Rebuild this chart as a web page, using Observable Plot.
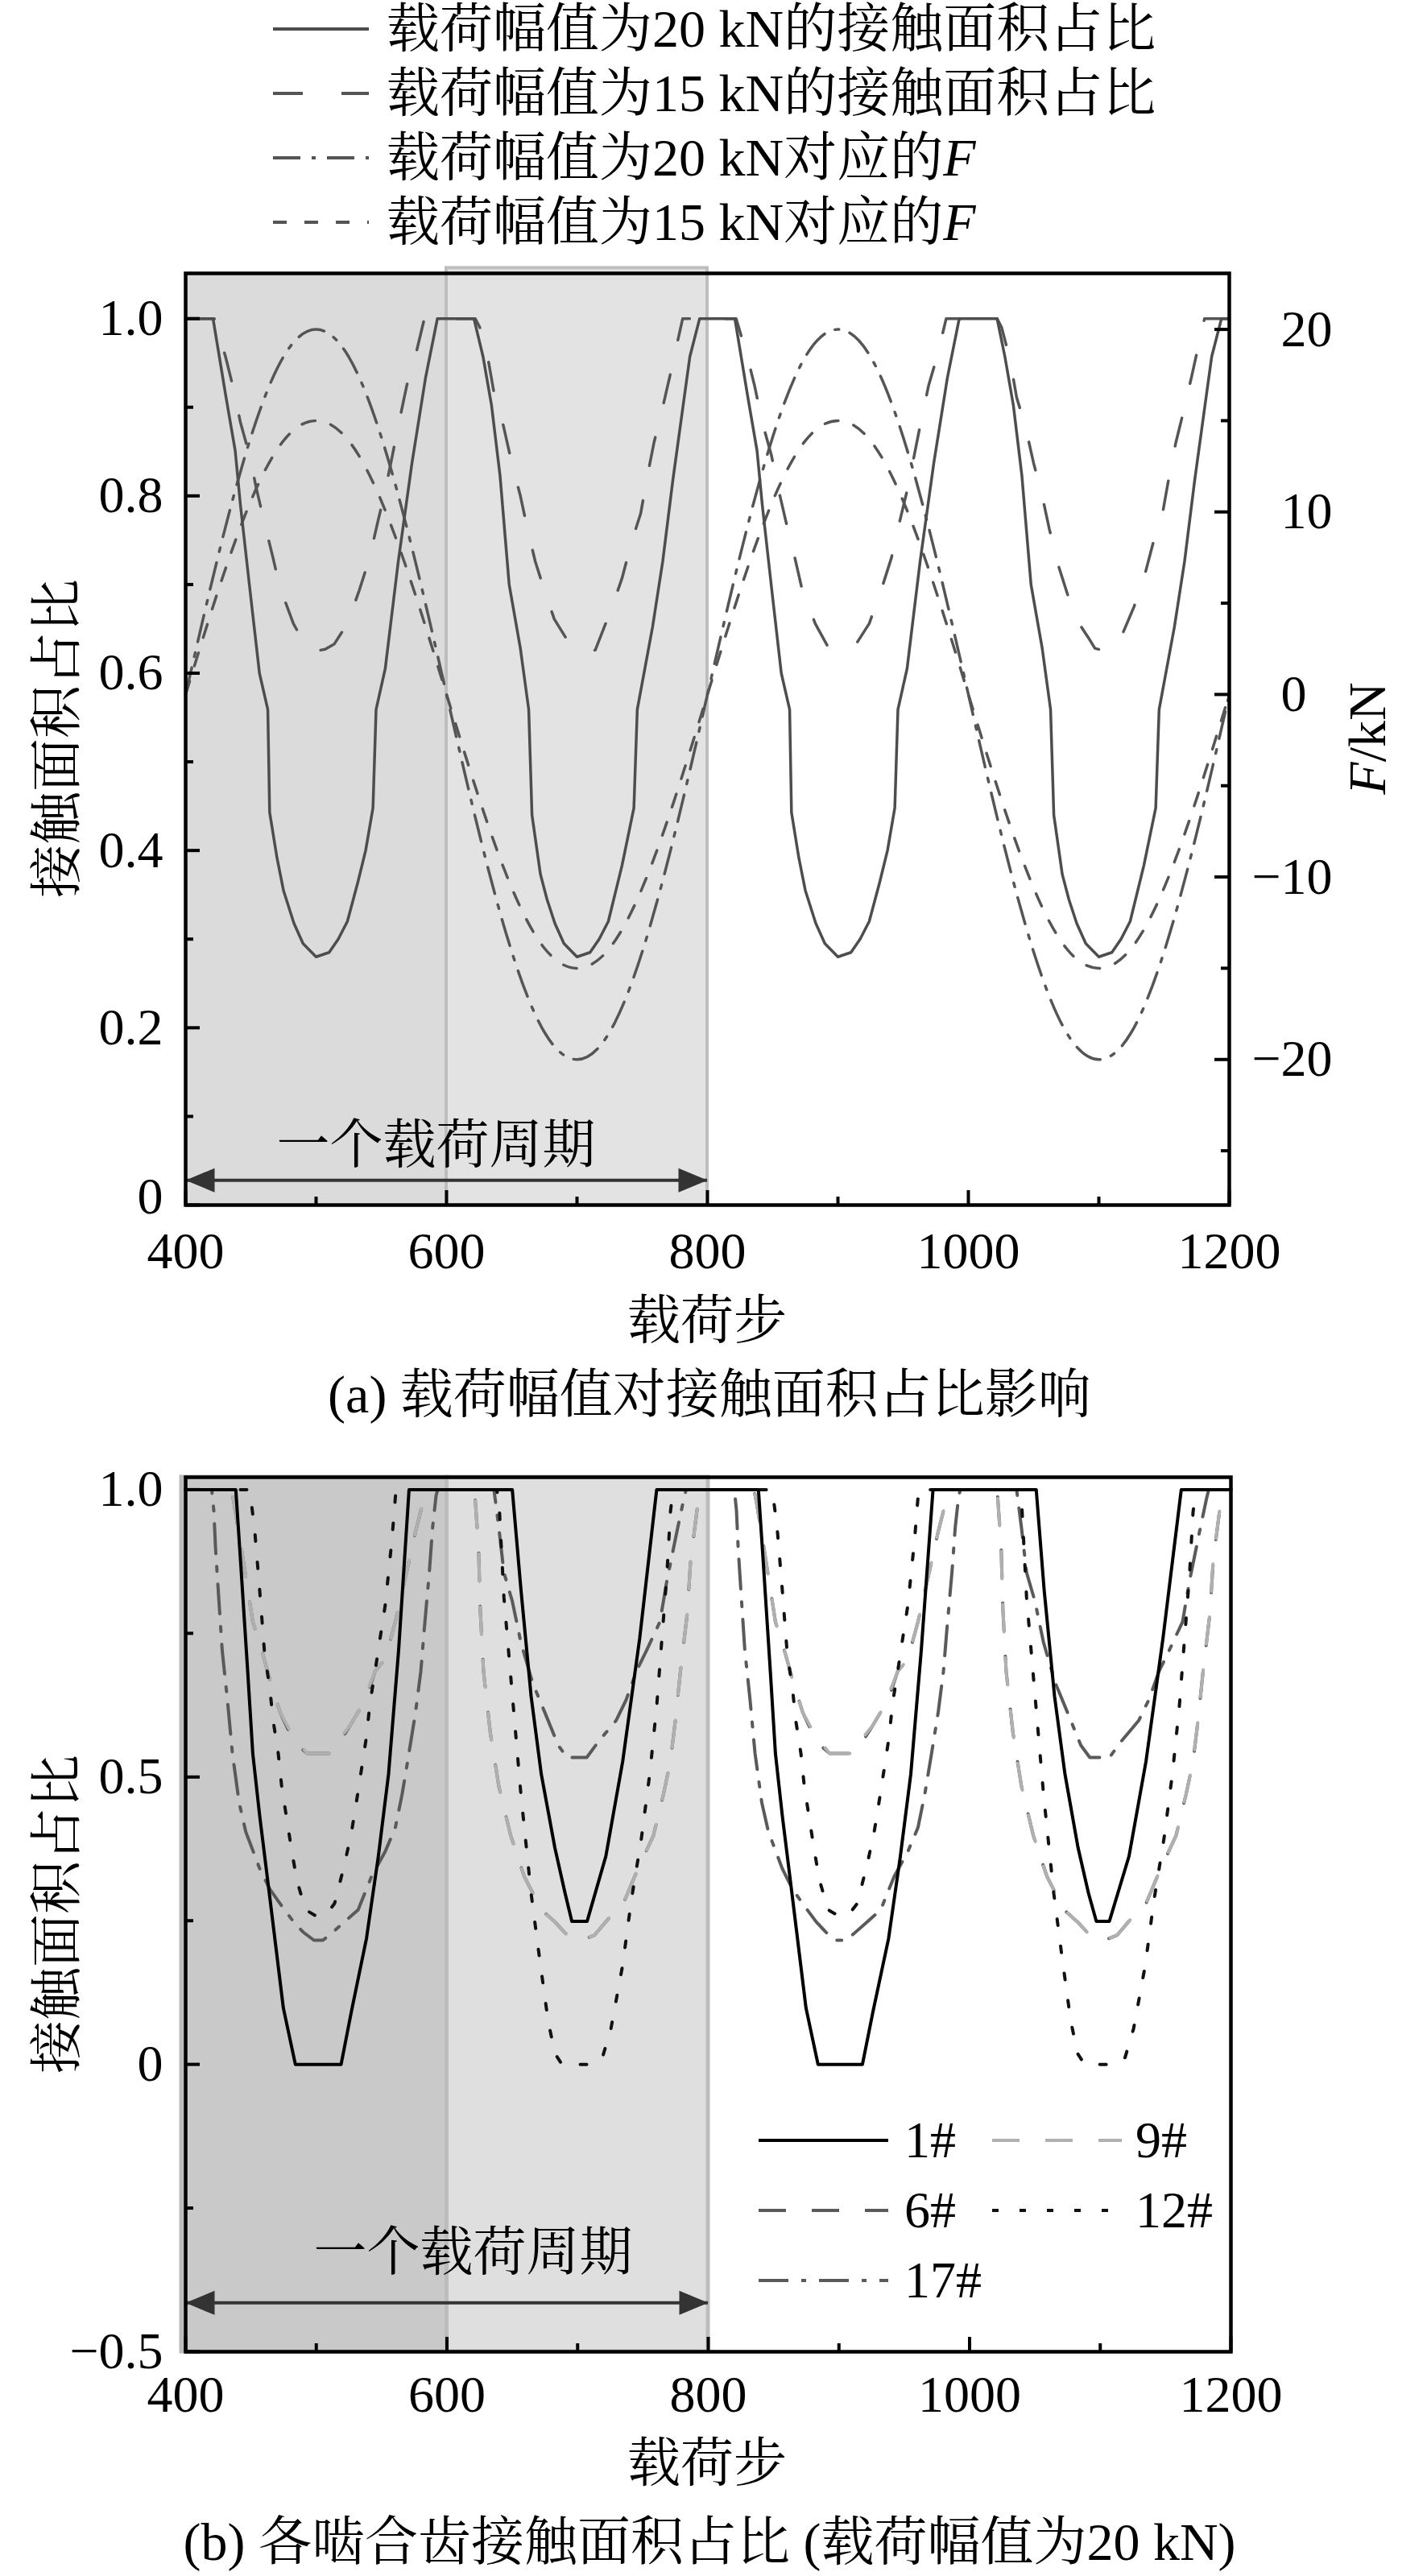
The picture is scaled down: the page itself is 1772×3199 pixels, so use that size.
<!DOCTYPE html>
<html><head><meta charset="utf-8">
<script src="https://cdn.jsdelivr.net/npm/d3@7"></script>
<script src="https://cdn.jsdelivr.net/npm/@observablehq/plot@0.6"></script>
<style>
html,body{margin:0;padding:0;width:1772px;height:3199px;overflow:hidden;background:#fff;}
#root{position:relative;width:1772px;height:3199px;}
#root svg.plotsvg{position:absolute;left:0;}
.lbl{position:absolute;white-space:nowrap;font-family:'Liberation Serif','Noto Serif CJK SC','Noto Sans CJK SC',serif;line-height:1;color:#000;}
.leg{position:absolute;display:flex;align-items:center;white-space:nowrap;font-family:'Liberation Serif','Noto Serif CJK SC','Noto Sans CJK SC',serif;line-height:1;color:#000;z-index:3;}
</style></head>
<body><div id="root"></div>
<script>
// ---------------- DATA ----------------
const xMajor = [400, 600, 800, 1000, 1200];
const xMinor = [500, 700, 900, 1100];
const xTickLabels = ["400", "600", "800", "1000", "1200"];

// panel (a)
const yMajorA = [0, 0.2, 0.4, 0.6, 0.8, 1.0];
const yMinorA = [0.1, 0.3, 0.5, 0.7, 0.9];
const yLabelsA = ["0", "0.2", "0.4", "0.6", "0.8", "1.0"];
const fMajor = [-20, -10, 0, 10, 20];
const fMinor = [-25, -15, -5, 5, 15];
const fLabels = ["\u221220", "\u221210", "0", "10", "20"];

const stepsF = [400,425,450,475,500,525,550,575,600,625,650,675,700,725,750,775,800,825,850,875,900,925,950,975,1000,1025,1050,1075,1100,1125,1150,1175,1200];
const force20 = [0,7.6,14.1,18.5,20,18.5,14.1,7.6,0,-7.6,-14.1,-18.5,-20,-18.5,-14.1,-7.6,0,7.6,14.1,18.5,20,18.5,14.1,7.6,0,-7.6,-14.1,-18.5,-20,-18.5,-14.1,-7.6,0];
const force15 = [0,5.7,10.6,13.9,15,13.9,10.6,5.7,0,-5.7,-10.6,-13.9,-15,-13.9,-10.6,-5.7,0,5.7,10.6,13.9,15,13.9,10.6,5.7,0,-5.7,-10.6,-13.9,-15,-13.9,-10.6,-5.7,0];

const contact20 = [[400,1.0],[421,1.0],[431,0.911],[438,0.851],[442,0.79],[449,0.698],[456.6,0.60],[463,0.559],[464.4,0.443],[470,0.392],[475,0.355],[483,0.318],[490,0.295],[500,0.28],[510,0.285],[517,0.30],[524,0.32],[532,0.364],[538,0.40],[543.6,0.448],[546,0.559],[553,0.605],[563,0.726],[573.5,0.837],[584,0.934],[593,1.0],[621,1.0],
 [628,0.957],[634.5,0.902],[641,0.823],[648,0.70],[656.6,0.628],[663,0.559],[665.5,0.440],[672,0.373],[677,0.345],[683,0.318],[690,0.295],[700,0.28],[710,0.285],[717,0.30],[724,0.32],[734.5,0.383],[743.6,0.448],[746.2,0.559],[757.9,0.652],[765.7,0.726],[773.5,0.818],[786.5,0.957],[794,1.0],[821,1.0],
 [831,0.911],[838,0.851],[842,0.79],[849,0.698],[856.6,0.60],[863,0.559],[864.4,0.443],[870,0.392],[875,0.355],[883,0.318],[890,0.295],[900,0.28],[910,0.285],[917,0.30],[924,0.32],[932,0.364],[938,0.40],[943.6,0.448],[946,0.559],[953,0.605],[963,0.726],[973.5,0.837],[984,0.934],[993,1.0],[1022,1.0],
 [1028,0.957],[1034.5,0.902],[1041,0.823],[1048,0.70],[1056.6,0.628],[1063,0.559],[1065.5,0.440],[1072,0.373],[1077,0.345],[1083,0.318],[1090,0.295],[1100,0.28],[1110,0.285],[1117,0.30],[1124,0.32],[1134.5,0.383],[1143.6,0.448],[1146.2,0.559],[1157.9,0.652],[1165.7,0.726],[1173.5,0.818],[1186.5,0.957],[1194,1.0],[1200,1.0]];

const contact15 = [[400,1.0],[422,1.0],[430.6,0.957],[436,0.925],[442,0.883],[449,0.846],[454,0.81],[460,0.772],[467,0.73],[472,0.698],[482.6,0.656],[493,0.628],[500,0.625],[507,0.627],[514,0.633],[524,0.656],[533,0.693],[541,0.73],[547.5,0.772],[552.7,0.804],[558,0.842],[563,0.879],[569.6,0.925],[576,0.957],[583,1.0],[622,1.0],
 [625.5,0.99],[632,0.953],[637,0.911],[643.6,0.879],[650,0.837],[656.6,0.80],[662,0.763],[668,0.726],[676,0.689],[682.6,0.661],[695.6,0.63],[705,0.625],[714,0.626],[727,0.675],[734.5,0.707],[742,0.749],[748.8,0.78],[754,0.823],[759,0.86],[765.7,0.90],[771,0.934],[781,1.0],[822,1.0],
 [830.6,0.957],[836,0.925],[842,0.883],[849,0.846],[854,0.81],[860,0.772],[867,0.73],[872,0.698],[882.6,0.656],[893,0.628],[900,0.625],[907,0.627],[914,0.633],[924,0.656],[933,0.693],[941,0.73],[947.5,0.772],[952.7,0.804],[958,0.842],[963,0.879],[969.6,0.925],[976,0.957],[983,1.0],[1022,1.0],
 [1025.5,0.99],[1032,0.953],[1037,0.911],[1043.6,0.879],[1050,0.837],[1056.6,0.80],[1062,0.763],[1068,0.726],[1076,0.689],[1082.6,0.661],[1092,0.64],[1097,0.628],[1105,0.625],[1114,0.63],[1127,0.675],[1134.5,0.707],[1142,0.749],[1148.8,0.78],[1154,0.823],[1159,0.86],[1165.7,0.90],[1171,0.934],[1181,1.0],[1200,1.0]];

// panel (b)
const yMajorB = [-0.5, 0, 0.5, 1.0];
const yMinorB = [-0.25, 0.25, 0.75];
const yLabelsB = ["\u22120.5", "0", "0.5", "1.0"];

const tooth1 = [[400,1],[438.4,1],[442,0.877],[447.5,0.684],[451.4,0.541],[456.6,0.434],[464.4,0.291],[474.8,0.098],[484,0],[519,0],[526.8,0.091],[538.4,0.219],[547.5,0.362],[555.3,0.505],[563,0.72],[571,1],[650,1],[656.6,0.827],[664.4,0.641],[672.2,0.505],[682.6,0.377],[690.4,0.298],[695.6,0.249],[707.3,0.249],[721.6,0.362],[734.5,0.527],[747.5,0.741],[760.5,1],
 [838.4,1],[842,0.877],[847.5,0.684],[851.4,0.541],[856.6,0.434],[864.4,0.291],[874.8,0.098],[884,0],[918,0],[926,0.091],[938,0.219],[947,0.362],[955,0.505],[963,0.72],[972,1],[1051,1],[1057,0.827],[1065,0.641],[1073,0.505],[1083,0.377],[1091,0.298],[1097,0.249],[1107,0.249],[1122,0.362],[1135,0.527],[1148,0.741],[1162,1],[1200,1]];

const tooth6 = [[400,1],[435,1],[437,0.977],[443.6,0.884],[451.4,0.77],[459.2,0.713],[464.4,0.67],[472.2,0.613],[480,0.575],[485.2,0.556],[493,0.541],[511.2,0.541],[519,0.565],[526,0.59],[532,0.613],[540,0.65],[545,0.684],[552.7,0.705],[560.5,0.77],[568.3,0.848],[576,0.927],[580,0.963],[584,1],[621,1],[621.6,0.984],[624.2,0.898],[625.5,0.791],[628,0.684],[633.2,0.577],[639.7,0.484],[648.8,0.398],[659.2,0.327],[672.2,0.269],[682.6,0.248],[692,0.225],[703.4,0.216],[713,0.225],[724.2,0.255],[734.5,0.277],[745,0.334],[758,0.398],[765.7,0.47],[771,0.527],[774.8,0.598],[778.7,0.684],[783.9,0.784],[786.5,0.877],[791.7,0.97],[793,1],[835,1],
 [837,0.977],[843.6,0.884],[851.4,0.77],[859.2,0.713],[864.4,0.67],[872.2,0.613],[880,0.575],[885.2,0.556],[893,0.541],[911.2,0.541],[919,0.565],[926,0.59],[932,0.613],[940,0.65],[945,0.684],[952.7,0.705],[960.5,0.77],[968.3,0.848],[976,0.927],[980,0.963],[984,1],[1021,1],[1021.6,0.984],[1024.2,0.898],[1025.5,0.791],[1028,0.684],[1033.2,0.577],[1039.7,0.484],[1048.8,0.398],[1059.2,0.327],[1072.2,0.269],[1082.6,0.248],[1092,0.225],[1103.4,0.216],[1113,0.225],[1124.2,0.255],[1134.5,0.277],[1145,0.334],[1158,0.398],[1165.7,0.47],[1171,0.527],[1174.8,0.598],[1178.7,0.684],[1183.9,0.784],[1186.5,0.877],[1191.7,0.97],[1193,1],[1200,1]];

const tooth9 = [[400,1],[435,1],[437,0.977],[443.6,0.884],[451.4,0.77],[459.2,0.713],[464.4,0.67],[472.2,0.613],[480,0.58],[485.2,0.562],[493,0.541],[511.2,0.541],[519,0.57],[526,0.59],[532,0.613],[540,0.655],[545,0.684],[552.7,0.705],[560.5,0.77],[568.3,0.848],[576,0.927],[580,0.963],[584,1],[621,1],[621.6,0.984],[624.2,0.898],[625.5,0.791],[628,0.684],[633.2,0.577],[639.7,0.484],[648.8,0.398],[659.2,0.327],[672.2,0.269],[682.6,0.248],[692,0.225],[703.4,0.216],[713,0.225],[724.2,0.255],[734.5,0.277],[745,0.334],[758,0.398],[765.7,0.47],[771,0.527],[774.8,0.598],[778.7,0.684],[783.9,0.784],[786.5,0.877],[791.7,0.97],[793,1],[835,1],
 [837,0.977],[843.6,0.884],[851.4,0.77],[859.2,0.713],[864.4,0.67],[872.2,0.613],[880,0.58],[885.2,0.562],[893,0.541],[911.2,0.541],[919,0.57],[926,0.59],[932,0.613],[940,0.655],[945,0.684],[952.7,0.705],[960.5,0.77],[968.3,0.848],[976,0.927],[980,0.963],[984,1],[1021,1],[1021.6,0.984],[1024.2,0.898],[1025.5,0.791],[1028,0.684],[1033.2,0.577],[1039.7,0.484],[1048.8,0.398],[1059.2,0.327],[1072.2,0.269],[1082.6,0.248],[1092,0.225],[1103.4,0.216],[1113,0.225],[1124.2,0.255],[1134.5,0.277],[1145,0.334],[1158,0.398],[1165.7,0.47],[1171,0.527],[1174.8,0.598],[1178.7,0.684],[1183.9,0.784],[1186.5,0.877],[1191.7,0.97],[1193,1],[1200,1]];

const tooth12 = [[400,1],[449,1],[452.7,0.934],[456.6,0.827],[460.5,0.713],[464.4,0.655],[467,0.598],[470.9,0.541],[473.5,0.484],[477.4,0.427],[481.3,0.37],[485.2,0.32],[491.7,0.269],[500,0.258],[508,0.262],[514,0.28],[521.6,0.348],[526.8,0.402],[530.6,0.455],[534.5,0.512],[538.4,0.57],[541,0.627],[545,0.684],[548.8,0.741],[552.7,0.798],[555.3,0.855],[557.9,0.913],[561,1],[638,1],[639.7,0.984],[643.6,0.813],[650.1,0.641],[656.6,0.47],[664.4,0.298],[670.9,0.184],[677.4,0.076],[682.6,0.019],[688,0],[712,0],[719,0.012],[725.5,0.062],[734.5,0.173],[741,0.284],[748.8,0.393],[755.3,0.507],[760.5,0.622],[764.4,0.737],[768.3,0.851],[771,0.96],[773,1],
 [849,1],[852.7,0.934],[856.6,0.827],[860.5,0.713],[864.4,0.655],[867,0.598],[870.9,0.541],[873.5,0.484],[877.4,0.427],[881.3,0.37],[885.2,0.32],[891.7,0.269],[900,0.258],[908,0.262],[914,0.28],[921.6,0.348],[926.8,0.402],[930.6,0.455],[934.5,0.512],[938.4,0.57],[941,0.627],[945,0.684],[948.8,0.741],[952.7,0.798],[955.3,0.855],[957.9,0.913],[961,1],[1038,1],[1039.7,0.984],[1043.6,0.813],[1050.1,0.641],[1056.6,0.47],[1064.4,0.298],[1070.9,0.184],[1077.4,0.076],[1082.6,0.019],[1088,0],[1112,0],[1119,0.012],[1125.5,0.062],[1134.5,0.173],[1141,0.284],[1148.8,0.393],[1155.3,0.507],[1160.5,0.622],[1164.4,0.737],[1168.3,0.851],[1171,0.96],[1173,1],[1200,1]];

const tooth17 = [[400,1],[420,1],[421.6,0.963],[422.9,0.898],[425.5,0.806],[428,0.72],[432,0.634],[435.8,0.541],[441,0.455],[446,0.405],[456.6,0.341],[464.4,0.305],[472.2,0.28],[482.6,0.248],[490,0.23],[498.2,0.216],[505,0.216],[511.2,0.227],[521.6,0.248],[532,0.269],[542.3,0.327],[552.7,0.37],[560.5,0.412],[565.7,0.47],[570.9,0.541],[576,0.613],[580,0.684],[582.6,0.756],[586.5,0.856],[589,0.934],[591.7,0.99],[593,1],[636,1],[639.7,0.934],[643.6,0.856],[650,0.806],[656.6,0.734],[665.7,0.663],[674.8,0.613],[685.2,0.555],[692,0.534],[707,0.534],[716.4,0.563],[729.4,0.598],[737.1,0.634],[745,0.684],[752.7,0.72],[763,0.77],[768.3,0.841],[776,0.927],[781.3,0.984],[783,1],
 [820,1],[821.6,0.963],[822.9,0.898],[825.5,0.806],[828,0.72],[832,0.634],[835.8,0.541],[841,0.455],[846,0.405],[856.6,0.341],[864.4,0.305],[872.2,0.28],[882.6,0.248],[890,0.23],[898.2,0.216],[905,0.216],[911.2,0.227],[921.6,0.248],[932,0.269],[942.3,0.327],[952.7,0.37],[960.5,0.412],[965.7,0.47],[970.9,0.541],[976,0.613],[980,0.684],[982.6,0.756],[986.5,0.856],[989,0.934],[991.7,0.99],[993,1],[1036,1],[1039.7,0.934],[1043.6,0.856],[1050,0.806],[1056.6,0.734],[1065.7,0.663],[1074.8,0.613],[1085.2,0.555],[1092,0.534],[1107,0.534],[1116.4,0.563],[1129.4,0.598],[1137.1,0.634],[1145,0.684],[1152.7,0.72],[1163,0.77],[1168.3,0.841],[1176,0.927],[1181.3,0.984],[1183,1],[1200,1]];

// one load cycle (shaded spans)
const cycleStart = [400, 600];
const cycleEnd = [600, 800];
const cycleText = "一个载荷周期";

// ---------------- RENDER ----------------
const root = document.getElementById("root");
const SERIF = "'Liberation Serif','Noto Serif CJK SC','Noto Sans CJK SC',serif";
const W = 1772;

// left-axis value for a force in kN (right axis of panel a)
const F0 = 0.576, FK = 0.02059;
const toLeft = f => F0 + f * FK;

function label(html, x, y, size, rot) {
  const d = document.createElement("div");
  d.className = "lbl";
  d.style.left = x + "px";
  d.style.top = y + "px";
  d.style.fontSize = size + "px";
  d.style.transform = `translate(-50%,-50%) rotate(${rot || 0}deg)`;
  d.innerHTML = html;
  root.appendChild(d);
}

function legendRow(x, y, lineW, gap, dash, color, width, html, size) {
  const d = document.createElement("div");
  d.className = "leg";
  d.style.left = x + "px";
  d.style.top = (y - 40) + "px";
  d.style.height = "80px";
  d.style.fontSize = size + "px";
  d.innerHTML = `<svg width="${lineW}" height="20" style="display:block"><line x1="0" x2="${lineW}" y1="10" y2="10" stroke="${color}" stroke-width="${width}" ${dash ? `stroke-dasharray="${dash}"` : ""}/></svg><span style="margin-left:${gap}px">${html}</span>`;
  root.appendChild(d);
}

const triLeft = {draw(c) { c.moveTo(-18, 0); c.lineTo(18, -15); c.lineTo(18, 15); c.closePath(); }};
const triRight = {draw(c) { c.moveTo(18, 0); c.lineTo(-18, -15); c.lineTo(-18, 15); c.closePath(); }};

function place(svg, top) {
  svg.classList.add("plotsvg");
  svg.style.top = top + "px";
  svg.style.position = "absolute";
  root.appendChild(svg);
}

// ---------- Panel (a) ----------
{
  const mT = 39, mB = 194, mL = 230, mR = 246, H = 1390;
  const fh = H - mT - mB, fw = W - mL - mR;
  const yTop = 1.051;
  const shade = cycleStart.map((s, i) => ({x1: s, x2: cycleEnd[i]}));
  const grey = "#555";
  const svg = Plot.plot({
    width: W, height: H, marginTop: mT, marginBottom: mB, marginLeft: mL, marginRight: mR,
    x: {domain: [400, 1200], axis: null},
    y: {domain: [0, yTop], axis: null},
    style: {background: "transparent", fontFamily: SERIF, overflow: "visible"},
    marks: [
      Plot.rect([shade[0]], {x1: "x1", x2: "x2", y1: 0, y2: yTop, fill: "#dbdbdb"}),
      Plot.rect([shade[1]], {x1: "x1", x2: "x2", y1: 0, y2: yTop + 0.006, fill: "#e3e3e3", stroke: "#bebebe", strokeWidth: 4}),
      Plot.line(stepsF, {x: d => d, y: (d, i) => toLeft(force15[i]), curve: "natural", stroke: grey, strokeWidth: 3.5, strokeDasharray: "17,20"}),
      Plot.line(stepsF, {x: d => d, y: (d, i) => toLeft(force20[i]), curve: "natural", stroke: grey, strokeWidth: 3.5, strokeDasharray: "34,14,5,14"}),
      Plot.line(contact15, {stroke: grey, strokeWidth: 3.5, strokeDasharray: "36,44"}),
      Plot.line(contact20, {stroke: "#4d4d4d", strokeWidth: 3.5}),
      // arrow
      Plot.ruleY([0.028], {x1: cycleStart[0], x2: cycleEnd[1], stroke: "#333", strokeWidth: 4}),
      Plot.dot([cycleStart[0]], {x: d => d, y: 0.028, symbol: triLeft, fill: "#333", stroke: "none", dx: 18}),
      Plot.dot([cycleEnd[1]], {x: d => d, y: 0.028, symbol: triRight, fill: "#333", stroke: "none", dx: -18}),
      Plot.text([cycleText], {x: 592, y: 0.067, text: d => d, fontSize: 66, fontFamily: SERIF, fill: "#000"}),
      // ticks (inward)
      Plot.ruleX(xMajor, {x: d => d, stroke: "#000", strokeWidth: 4, insetTop: fh - 18}),
      Plot.ruleX(xMinor, {x: d => d, stroke: "#000", strokeWidth: 4, insetTop: fh - 10}),
      Plot.ruleY(yMajorA, {y: d => d, stroke: "#000", strokeWidth: 4, insetRight: fw - 18}),
      Plot.ruleY(yMinorA, {y: d => d, stroke: "#000", strokeWidth: 4, insetRight: fw - 10}),
      Plot.ruleY(fMajor.map(toLeft), {y: d => d, stroke: "#000", strokeWidth: 4, insetLeft: fw - 18}),
      Plot.ruleY(fMinor.map(toLeft), {y: d => d, stroke: "#000", strokeWidth: 4, insetLeft: fw - 10}),
      Plot.frame({stroke: "#000", strokeWidth: 4.5}),
      // tick labels
      Plot.text(xMajor, {x: d => d, frameAnchor: "bottom", dy: 58, text: (d, i) => xTickLabels[i], fontSize: 64, fontFamily: SERIF, lineAnchor: "middle", fill: "#000"}),
      Plot.text(yMajorA.slice(1), {y: d => d, frameAnchor: "left", dx: -28, textAnchor: "end", text: (d, i) => yLabelsA[i + 1], fontSize: 64, fontFamily: SERIF, lineAnchor: "middle", fill: "#000"}),
      Plot.text(yMajorA.slice(0, 1), {y: d => d, frameAnchor: "left", dx: -28, dy: -10, textAnchor: "end", text: (d, i) => yLabelsA[i], fontSize: 64, fontFamily: SERIF, lineAnchor: "middle", fill: "#000"}),
      Plot.text(fMajor.filter(f => f >= 0), {y: d => toLeft(d), frameAnchor: "right", dx: 64, textAnchor: "start", text: d => fLabels[fMajor.indexOf(d)], fontSize: 64, fontFamily: SERIF, lineAnchor: "middle", fill: "#000"}),
      Plot.text(fMajor.filter(f => f < 0), {y: d => toLeft(d), frameAnchor: "right", dx: 28, textAnchor: "start", text: d => fLabels[fMajor.indexOf(d)], fontSize: 64, fontFamily: SERIF, lineAnchor: "middle", fill: "#000"})
    ]
  });
  place(svg, 300);
  label("接触面积占比", 71, 917, 66, -90);
  label("<i>F</i>/kN", 1698, 917, 66, -90);
  label("载荷步", 878, 1640, 66, 0);
  label("(a) 载荷幅值对接触面积占比影响", 881, 1732, 66, 0);
}

// legend (a)
legendRow(339, 36, 119, 22, null, "#4d4d4d", 4, "载荷幅值为20 kN的接触面积占比", 66);
legendRow(339, 116, 119, 22, "37,48", "#555", 4, "载荷幅值为15 kN的接触面积占比", 66);
legendRow(339, 196, 119, 22, "34,14,5,14", "#555", 4, "载荷幅值为20 kN对应的<i>F</i>", 66);
legendRow(339, 276, 119, 22, "17,22", "#555", 4, "载荷幅值为15 kN对应的<i>F</i>", 66);

// ---------- Panel (b) ----------
{
  const mT = 54, mB = 190, mL = 230, mR = 244, H = 1330;
  const fh = H - mT - mB, fw = W - mL - mR;
  const yBot = -0.5, yTop = 1.0216;
  const shade = cycleStart.map((s, i) => ({x1: s, x2: cycleEnd[i]}));
  const svg = Plot.plot({
    width: W, height: H, marginTop: mT, marginBottom: mB, marginLeft: mL, marginRight: mR,
    x: {domain: [400, 1200], axis: null},
    y: {domain: [yBot, yTop], axis: null},
    style: {background: "transparent", fontFamily: SERIF, overflow: "visible"},
    marks: [
      Plot.rect([shade[0]], {x1: "x1", x2: "x2", y1: yBot, y2: yTop, fill: "#c9c9c9", stroke: "#bcbcbc", strokeWidth: 5, insetLeft: -5}),
      Plot.rect([shade[1]], {x1: "x1", x2: "x2", y1: yBot, y2: yTop, fill: "#dfdfdf", stroke: "#bcbcbc", strokeWidth: 5}),
      Plot.line(tooth17, {stroke: "#5a5a5a", strokeWidth: 4, strokeDasharray: "37,16,6,16"}),
      Plot.line(tooth6, {stroke: "#5a5a5a", strokeWidth: 4, strokeDasharray: "34,32"}),
      Plot.line(tooth9, {stroke: "#b0b0b0", strokeWidth: 4, strokeDasharray: "34,32"}),
      Plot.line(tooth12, {stroke: "#111", strokeWidth: 4, strokeDasharray: "8,26"}),
      Plot.line(tooth1, {stroke: "#000", strokeWidth: 4}),
      // arrow
      Plot.ruleY([-0.415], {x1: cycleStart[0], x2: cycleEnd[1], stroke: "#333", strokeWidth: 4}),
      Plot.dot([cycleStart[0]], {x: d => d, y: -0.415, symbol: triLeft, fill: "#333", stroke: "none", dx: 18}),
      Plot.dot([cycleEnd[1]], {x: d => d, y: -0.415, symbol: triRight, fill: "#333", stroke: "none", dx: -18}),
      Plot.text([cycleText], {x: 620, y: -0.328, text: d => d, fontSize: 66, fontFamily: SERIF, fill: "#000"}),
      // ticks
      Plot.ruleX(xMajor, {x: d => d, stroke: "#000", strokeWidth: 4, insetTop: fh - 18}),
      Plot.ruleX(xMinor, {x: d => d, stroke: "#000", strokeWidth: 4, insetTop: fh - 10}),
      Plot.ruleY(yMajorB, {y: d => d, stroke: "#000", strokeWidth: 4, insetRight: fw - 18}),
      Plot.ruleY(yMinorB, {y: d => d, stroke: "#000", strokeWidth: 4, insetRight: fw - 10}),
      Plot.frame({stroke: "#000", strokeWidth: 4.5}),
      Plot.text(xMajor, {x: d => d, frameAnchor: "bottom", dy: 54, text: (d, i) => xTickLabels[i], fontSize: 64, fontFamily: SERIF, lineAnchor: "middle", fill: "#000"}),
      Plot.text(yMajorB, {y: d => d, frameAnchor: "left", dx: -28, textAnchor: "end", text: (d, i) => yLabelsB[i], fontSize: 64, fontFamily: SERIF, lineAnchor: "middle", fill: "#000"})
    ]
  });
  place(svg, 1780);
  label("接触面积占比", 71, 2377, 66, -90);
  label("载荷步", 878, 3059, 66, 0);
  label("(b) 各啮合齿接触面积占比 (载荷幅值为20 kN)", 881, 3157, 66, 0);
}

// legend (b)
legendRow(942, 2658, 161, 20, null, "#000", 4, "1#", 64);
legendRow(942, 2745, 161, 20, "34,32", "#5a5a5a", 4, "6#", 64);
legendRow(942, 2832, 161, 20, "37,16,6,16", "#5a5a5a", 4, "17#", 64);
legendRow(1232, 2658, 161, 17, "34,32", "#b0b0b0", 4, "9#", 64);
legendRow(1232, 2745, 161, 17, "8,26", "#111", 4, "12#", 64);
</script>
</body></html>
